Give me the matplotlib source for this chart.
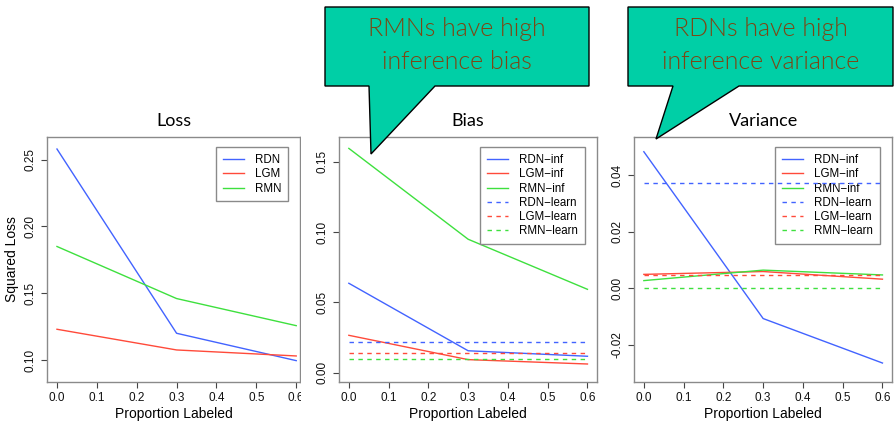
import matplotlib
matplotlib.use("Agg")
import matplotlib.pyplot as plt
from matplotlib.patches import Polygon, Rectangle

# ---- data ---------------------------------------------------------------
proportion = [0.0, 0.3, 0.6]
x_ticks = [0.0, 0.1, 0.2, 0.3, 0.4, 0.5, 0.6]

loss_rdn = [0.258, 0.120, 0.0995]
loss_lgm = [0.123, 0.1075, 0.103]
loss_rmn = [0.185, 0.146, 0.1257]

bias_rdn_inf = [0.0636, 0.0156, 0.0117]
bias_lgm_inf = [0.0266, 0.0093, 0.0062]
bias_rmn_inf = [0.1595, 0.0949, 0.0593]
bias_rdn_learn = [0.0218, 0.0218, 0.0218]
bias_lgm_learn = [0.0140, 0.0140, 0.0140]
bias_rmn_learn = [0.0097, 0.0097, 0.0097]

var_rdn_inf = [0.0482, -0.0107, -0.0264]
var_lgm_inf = [0.0049, 0.0059, 0.0032]
var_rmn_inf = [0.0027, 0.0064, 0.0047]
var_rdn_learn = [0.0371, 0.0371, 0.0371]
var_lgm_learn = [0.0046, 0.0046, 0.0046]
var_rmn_learn = [0.0, 0.0, 0.0]

loss_yticks = [0.10, 0.15, 0.20, 0.25]
bias_yticks = [0.00, 0.05, 0.10, 0.15]
var_yticks = [-0.02, 0.00, 0.02, 0.04]

# ---- styling ------------------------------------------------------------
W, H = 894, 423
BLUE, RED, GREEN = "#4263ff", "#ff4a3a", "#3ee03e"
BOX = "#8a8a8a"
SANS = ["Liberation Sans", "DejaVu Sans"]
HUMAN = ["Lato", "DejaVu Sans"]
TEAL = "#00cfa6"
BROWN = "#7d4614"
LW = 1.0
DASH = (0, (3.2, 3.2))

plt.rcParams["font.family"] = SANS

fig = plt.figure(figsize=(W / 100, H / 100), dpi=100)


def px_axes(left, right, top, bottom):
    return [left / W, 1 - bottom / H, (right - left) / W, (bottom - top) / H]


def style(ax, yticks, ylim, xlim):
    ax.set_xlim(*xlim)
    ax.set_ylim(*ylim)
    ax.set_xticks(x_ticks)
    ax.set_xticklabels([f"{t:.1f}" for t in x_ticks])
    ax.set_yticks(yticks)
    ax.set_yticklabels([f"{t:.2f}" for t in yticks])
    for s in ax.spines.values():
        s.set_color(BOX)
        s.set_linewidth(1.0)
    ax.tick_params(direction="out", length=4.5, width=0.8, color="#444444",
                   labelsize=8.5, pad=3, labelcolor="#111111")
    for lab in ax.get_yticklabels():
        lab.set_rotation(90)
        lab.set_va("center")
        lab.set_ha("right")
    ax.set_xlabel("Proportion Labeled", fontsize=10, labelpad=1.5)


def add_legend(ax, handles, labels):
    leg = ax.legend(handles, labels, loc="upper right",
                    bbox_to_anchor=(0.953, 0.959), borderaxespad=0,
                    fontsize=8.3, handlelength=1.8, handletextpad=0.95,
                    borderpad=0.6, labelspacing=0.2, fancybox=False,
                    framealpha=1, edgecolor=BOX)
    leg.get_frame().set_linewidth(1.0)
    return leg


# ---- Loss ---------------------------------------------------------------
ax1 = fig.add_axes(px_axes(47.4, 300, 137, 382), zorder=0)
l1, = ax1.plot(proportion, loss_rdn, color=BLUE, lw=LW)
l2, = ax1.plot(proportion, loss_lgm, color=RED, lw=LW)
l3, = ax1.plot(proportion, loss_rmn, color=GREEN, lw=LW)
style(ax1, loss_yticks, (0.0835, 0.267), (-0.024, 0.6095))
ax1.set_ylabel("Squared Loss", fontsize=10, labelpad=4)
ax1.set_title("Loss", fontsize=13, family=HUMAN, pad=8)
add_legend(ax1, [l1, l2, l3], ["RDN", "LGM", "RMN"])

# ---- Bias ---------------------------------------------------------------
ax2 = fig.add_axes(px_axes(339.3, 597, 137, 382), zorder=2)
h = []
h += ax2.plot(proportion, bias_rdn_inf, color=BLUE, lw=LW)
h += ax2.plot(proportion, bias_lgm_inf, color=RED, lw=LW)
h += ax2.plot(proportion, bias_rmn_inf, color=GREEN, lw=LW)
h += ax2.plot(proportion, bias_rdn_learn, color=BLUE, lw=LW, ls=DASH)
h += ax2.plot(proportion, bias_lgm_learn, color=RED, lw=LW, ls=DASH)
h += ax2.plot(proportion, bias_rmn_learn, color=GREEN, lw=LW, ls=DASH)
style(ax2, bias_yticks, (-0.0066, 0.1676), (-0.024, 0.624))
ax2.set_title("Bias", fontsize=13, family=HUMAN, pad=8)
series_names = ["RDN\u2212inf", "LGM\u2212inf", "RMN\u2212inf",
                "RDN\u2212learn", "LGM\u2212learn", "RMN\u2212learn"]
add_legend(ax2, h, series_names)

# ---- Variance -----------------------------------------------------------
ax3 = fig.add_axes(px_axes(634.3, 892, 137, 382), zorder=2)
h = []
h += ax3.plot(proportion, var_rdn_inf, color=BLUE, lw=LW)
h += ax3.plot(proportion, var_lgm_inf, color=RED, lw=LW)
h += ax3.plot(proportion, var_rmn_inf, color=GREEN, lw=LW)
h += ax3.plot(proportion, var_rdn_learn, color=BLUE, lw=LW, ls=DASH)
h += ax3.plot(proportion, var_lgm_learn, color=RED, lw=LW, ls=DASH)
h += ax3.plot(proportion, var_rmn_learn, color=GREEN, lw=LW, ls=DASH)
style(ax3, var_yticks, (-0.0331, 0.0534), (-0.024, 0.624))
ax3.set_title("Variance", fontsize=13, family=HUMAN, pad=8)
leg3 = add_legend(ax3, h, series_names)
# the legend sits beneath the data, so the dashed blue line crosses its key
leg3.set_zorder(1.5)
for ln in ax3.get_lines():
    ln.set_zorder(3)

# white strip between the first two panels
fig.add_artist(Rectangle((301 / W, 0), (337 - 301) / W, 1 - 128 / H,
                         transform=fig.transFigure, facecolor="white",
                         edgecolor="none", zorder=1))


# ---- speech-bubble callouts ---------------------------------------------
def callout(pts, lines, cx):
    poly = Polygon([(x / W, 1 - y / H) for x, y in pts], closed=True,
                   transform=fig.transFigure, facecolor=TEAL,
                   edgecolor="black", linewidth=1.0, zorder=10)
    fig.add_artist(poly)
    for txt, y in zip(lines, (29, 62)):
        fig.text(cx / W, 1 - y / H, txt, ha="center", va="center",
                 fontsize=18, family=HUMAN, fontweight=300,
                 color=BROWN, zorder=11)


callout([(325, 7), (589, 7), (589, 86), (435, 86), (371, 154),
         (369, 86), (325, 86)],
        ["RMNs have high", "inference bias"], 457)
callout([(628, 7), (893, 7), (893, 86), (739, 86), (656, 139),
         (673, 86), (628, 86)],
        ["RDNs have high", "inference variance"], 761)

fig.savefig("out.png", dpi=100)
